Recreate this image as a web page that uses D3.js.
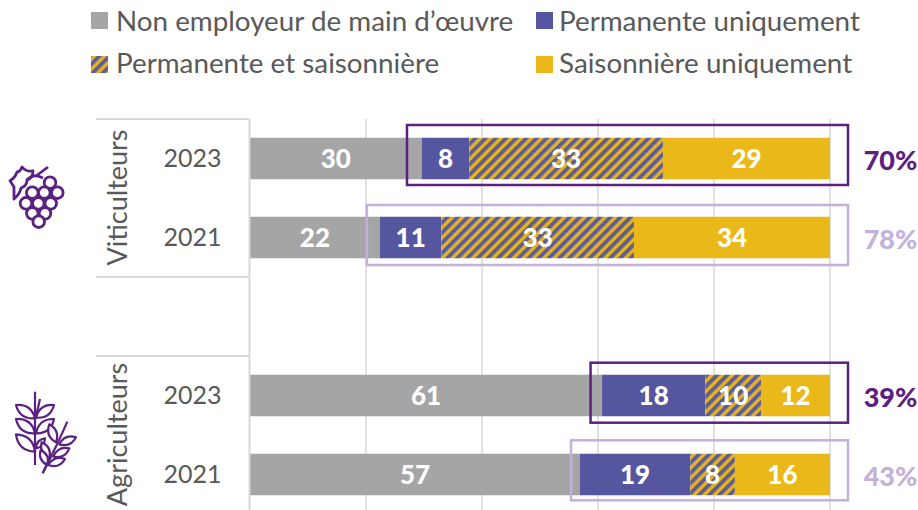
<!DOCTYPE html>
<html><head><meta charset="utf-8">
<script src="https://cdn.jsdelivr.net/npm/d3@7"></script>
<style>html,body{margin:0;padding:0;background:#fff}svg{display:block}text{font-family:Lato,"Open Sans",sans-serif}</style>
</head><body><div id="c"></div>
<script>
const groups = ["Viticulteurs","Agriculteurs"];
const rows = ["Viticulteurs 2023","Viticulteurs 2021","gap","Agriculteurs 2023","Agriculteurs 2021"];
const years = ["2023","2021","","2023","2021"];
const seriesNames = ["Non employeur de main d’œuvre","Permanente uniquement","Permanente et saisonnière","Saisonnière uniquement"];
const nonEmployeur = [29.6,22.4,null,60.7,56.9];
const permanente = [8.2,10.6,null,17.8,19.0];
const lesDeux = [33.4,33.2,null,9.6,7.7];
const saisonniere = [28.8,33.8,null,11.9,16.4];
const employeurs = ["70%","78%",null,"39%","43%"];
const colors = ["#A5A5A5","#55569F","url(#hatch)","#EAB818"];
const W=918,H=510;
const svg=d3.select("#c").append("svg").attr("width",W).attr("height",H);
const defs=svg.append("defs");
const pat=defs.append("pattern").attr("id","hatch").attr("width",7.2).attr("height",7.2)
 .attr("patternUnits","userSpaceOnUse").attr("patternTransform","rotate(45)");
pat.append("rect").attr("width",7.2).attr("height",7.2).attr("fill","#E3B420");
pat.append("rect").attr("width",3.8).attr("height",7.2).attr("fill","#5F5C96");

const x=d3.scaleLinear().domain([0,100]).range([250,830]);
const y=d3.scaleBand().domain(rows).range([119,514]);
const bh=41.5, grid="#D9D9D9", dark="#5B2180", light="#C4B1DB", axisC="#595959";
svg.append("g").selectAll("line").data(d3.range(20,101,20)).join("line")
 .attr("x1",d=>x(d)).attr("x2",d=>x(d)).attr("y1",119).attr("y2",510)
 .attr("stroke",grid).attr("stroke-width",1.6);
const series=[nonEmployeur,permanente,lesDeux,saisonniere];
const boxPadLeft=[14.7,13,0,11.5,9];
const boxShift=[-3.5,-2.5,0,-2.8,-4.2];
rows.forEach((r,i)=>{
 if(nonEmployeur[i]==null) return;
 let acc=0;
 const cy=y(r)+y.bandwidth()/2;
 series.forEach((s,k)=>{
  const v=s[i],x0=x(acc),x1=x(acc+v);
  svg.append("rect").attr("x",x0).attr("y",cy-bh/2).attr("width",x1-x0).attr("height",bh).attr("fill",colors[k]);
  svg.append("text").attr("x",(x0+x1)/2).attr("y",cy+9.5).attr("text-anchor","middle")
   .attr("font-size",26).attr("font-weight",900).attr("fill","#fff").text(d3.format(".0f")(v));
  acc+=v;
 });
 const col=i%3===0?dark:light;
 const bx=x(nonEmployeur[i])-boxPadLeft[i];
 svg.append("rect").attr("x",bx).attr("y",cy+boxShift[i]-30).attr("width",848-bx).attr("height",60)
  .attr("fill","none").attr("stroke",col).attr("stroke-width",2.5);
 svg.append("text").attr("x",890.5).attr("y",cy+11.5).attr("text-anchor","middle")
  .attr("font-size",27).attr("font-weight",900).attr("fill",col).text(employeurs[i]);
});
svg.append("line").attr("x1",249.5).attr("x2",249.5).attr("y1",119).attr("y2",510).attr("stroke",grid).attr("stroke-width",2);
[119,277,356].forEach(v=>svg.append("line").attr("x1",96).attr("x2",249).attr("y1",v).attr("y2",v).attr("stroke",grid).attr("stroke-width",2));
rows.forEach((r,i)=>{ if(!years[i])return;
 svg.append("text").attr("x",192.5).attr("y",y(r)+y.bandwidth()/2+8.5).attr("text-anchor","middle")
  .attr("font-size",25).attr("fill",axisC).text(years[i]);
});
[[groups[0],197.5],[groups[1],434.5]].forEach(([t,c])=>{
 svg.append("text").attr("transform",`translate(127,${c}) rotate(-90)`).attr("text-anchor","middle")
  .attr("font-size",27).attr("fill",axisC).text(t);
});
const legPos=[[91,116,20.5,31],[536,559,20.5,31],[91,116,64.5,73],[536,559,64.5,73]];
seriesNames.forEach((n,k)=>{
 const [sx,tx,c,b]=legPos[k];
 svg.append("rect").attr("x",sx).attr("y",c-8.5).attr("width",17).attr("height",17).attr("fill",colors[k]);
 svg.append("text").attr("x",tx).attr("y",b).attr("font-size",27.8).attr("fill",axisC).text(n);
});
// grape icon
const grape=svg.append("g").attr("fill","#fff").attr("stroke",dark).attr("stroke-width",2.8).attr("stroke-linejoin","round");
grape.append("path").attr("fill","none").attr("d","M48,167 L36,176");
grape.append("path").attr("d","M10,180.7 Q15,178 17,172 Q20,172 22,167 Q26,172 33,171 Q33,178 27,180 Q27,186 21,188 Q20,194 14,199 L14,187 Z");
grape.append("path").attr("fill","none").attr("d","M27,180 Q33,173 43,178");
[[50,182.7],[57.3,192.7],[32.3,192.7],[44.3,192.7],[26,203.3],[38.3,203.3],[50.7,203.3],[32.3,213.3],[45,213.3],[38.7,221.7]]
 .forEach(([a,b])=>grape.append("circle").attr("cx",a).attr("cy",b).attr("r",5.8));
// wheat icon
const leaf=(a,b,c,d,k)=>{const mx=(a+c)/2,my=(b+d)/2,nx=-(d-b)*k,ny=(c-a)*k;
 return `M${a},${b} Q${mx+nx},${my+ny} ${c},${d} Q${mx-nx},${my-ny} ${a},${b}Z`;};
const wheat=svg.append("g").attr("transform","translate(10,385) scale(0.3333)")
 .attr("fill","none").attr("stroke",dark).attr("stroke-width",6.6).attr("stroke-linejoin","round");
wheat.append("path").attr("d","M75,20 L75,240 M90,42 L77,100");
[[75,100,18,60],[78,98,132,60],[75,145,18,102],[78,145,132,102],[75,200,18,148],[78,190,105,160]]
 .forEach(l=>wheat.append("path").attr("d",leaf(...l,0.42)));
wheat.append("path").attr("d","M98,265 L145,170 L172,110");
[[138,172,118,118],[148,178,198,157],[118,220,95,172],[130,215,178,190],[112,240,92,195],[115,240,165,222]]
 .forEach(l=>wheat.append("path").attr("fill","#fff").attr("d",leaf(...l,0.42)));
wheat.append("path").attr("d","M98,265 L125,210");
</script></body></html>
